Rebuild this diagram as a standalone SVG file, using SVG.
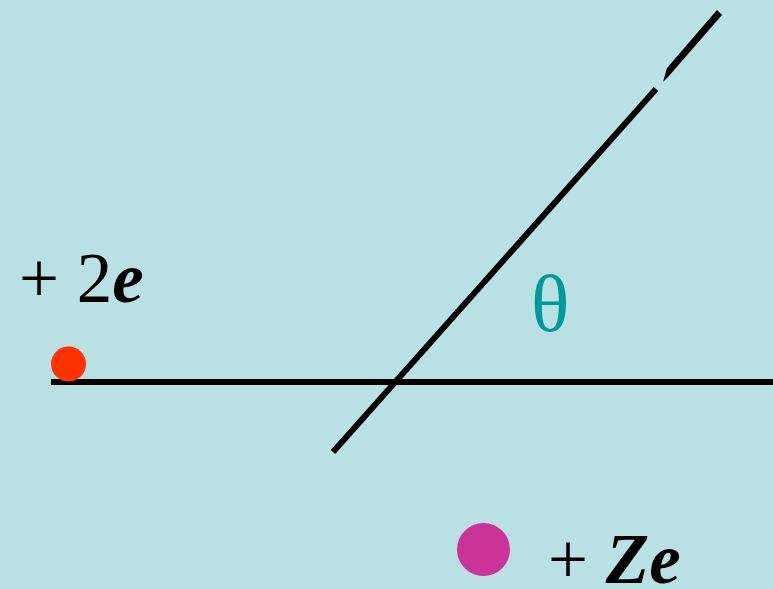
<svg xmlns="http://www.w3.org/2000/svg" width="773" height="589" viewBox="0 0 773 589">
<style>
.ln{stroke:#000;stroke-width:6;fill:none}
.t{font-family:"Liberation Serif","Times New Roman",serif;font-size:71px;fill:#000}
</style>
<rect width="773" height="589" fill="#B9E0E3"/>
<g id="connectors">
<line class="ln" x1="51" y1="382" x2="773" y2="382"/>
<line class="ln" x1="333" y1="452" x2="656" y2="89"/>
<path d="M663,82 L667,68 L717,10 L722,15 L668,77 Z" fill="#000"/>
</g>
<g id="charge1">
<circle cx="68.5" cy="364" r="17.5" fill="#FF3300"/>
<text class="t" x="19" y="302">+ 2<tspan font-style="italic" font-weight="bold">e</tspan></text>
</g>
<g id="charge2">
<circle cx="483.5" cy="549.5" r="26.5" fill="#CC3399"/>
<text class="t" x="548" y="583">+ <tspan font-style="italic" font-weight="bold">Ze</tspan></text>
</g>
<g id="angle">
<text x="531" y="331" font-family="Liberation Serif,serif" font-size="80" fill="#009999">θ</text>
</g>
</svg>
